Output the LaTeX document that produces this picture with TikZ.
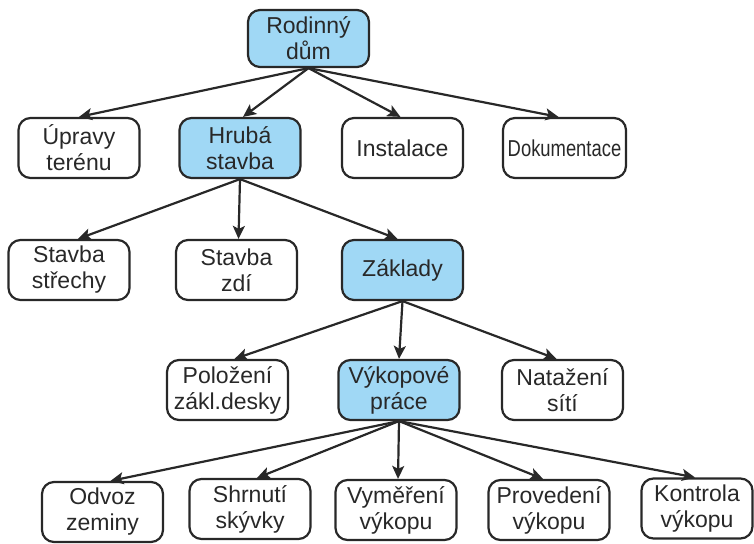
\documentclass[tikz,border=0pt]{standalone}
\usepackage{fontspec}
\usepackage{graphicx}
\setmainfont{Liberation Sans}
\usetikzlibrary{arrows.meta}
\definecolor{boxline}{RGB}{40,40,40}
\definecolor{boxtext}{RGB}{40,40,40}
\definecolor{keyfill}{RGB}{160,216,245}
\tikzset{
  box/.style={draw=boxline, line width=2.2pt, rounded corners=12pt,
    minimum width=121pt, minimum height=60pt, inner sep=3pt,
    align=center, text=boxtext, font=\fontsize{23}{26}\selectfont},
  keybox/.style={box, fill=keyfill},
  link/.style={draw=boxline, line width=2.2pt,
    -{Stealth[length=13pt,width=12pt,inset=3pt]}}
}
\begin{document}
\begin{tikzpicture}[x=1pt,y=-1pt]
\useasboundingbox (0,0) rectangle (754,543);

% top level
\node[keybox, minimum height=57pt] (dum) at (308.5,38.5) {Rodinný\\dům};

% second level
\node[box]    (terenu) at (79,148)    {Úpravy\\terénu};
\node[keybox] (hruba)  at (240,148)   {Hrubá\\stavba};
\node[box]    (inst)   at (402.5,148) {Instalace};
\node[box, minimum width=123pt] (dok) at (564.5,148) {\scalebox{0.8}[1]{Dokumentace}};

% third level
\node[box]    (strecha) at (69,270)    {Stavba\\střechy};
\node[box]    (zdi)     at (236.5,270) {Stavba\\zdí};
\node[keybox] (zaklady) at (402.5,270) {Základy};

% fourth level
\node[box]    (deska)  at (227.5,390) {Položení\\zákl.desky};
\node[keybox] (vykop)  at (399,390)   {Výkopové\\práce};
\node[box]    (site)   at (562.5,390) {Natažení\\sítí};

% fifth level
\node[box] (odvoz)     at (102.5,512) {Odvoz\\zeminy};
\node[box] (shrnuti)   at (250,509)   {Shrnutí\\skývky};
\node[box] (vymereni)  at (396,510)   {Vyměření\\výkopu};
\node[box] (provedeni) at (549,510)   {Provedení\\výkopu};
\node[box, minimum width=111pt] (kontrola) at (697,508.5) {Kontrola\\výkopu};

% connectors
\path[link] (dum.south) -- (terenu.north);
\path[link] (dum.south) -- ([xshift=3pt]hruba.north);
\path[link] (dum.south) -- ([xshift=-2pt]inst.north);
\path[link] (dum.south) -- ([xshift=-6pt]dok.north);

\path[link] (hruba.south) -- ([xshift=9pt]strecha.north);
\path[link] (hruba.south) -- ([xshift=2pt]zdi.north);
\path[link] (hruba.south) -- ([xshift=-5pt]zaklady.north);

\path[link] (zaklady.south) -- ([xshift=7pt]deska.north);
\path[link] (zaklady.south) -- (vykop.north);
\path[link] (zaklady.south) -- ([xshift=-6pt]site.north);

\path[link] (vykop.south) -- ([xshift=8pt]odvoz.north);
\path[link] (vykop.south) -- ([xshift=7pt]shrnuti.north);
\path[link] (vykop.south) -- ([xshift=2pt]vymereni.north);
\path[link] (vykop.south) -- ([xshift=-6pt]provedeni.north);
\path[link] (vykop.south) -- ([xshift=-2pt]kontrola.north);
\end{tikzpicture}
\end{document}
